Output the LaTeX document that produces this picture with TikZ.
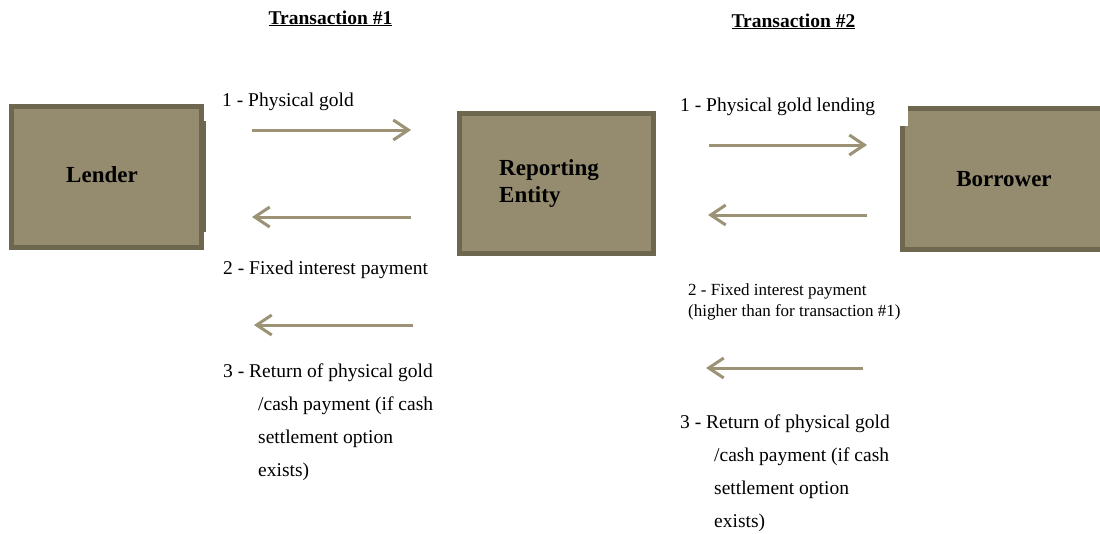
\documentclass[tikz,border=0pt]{standalone}
\usepackage{fontspec}
\setmainfont{Liberation Serif}
\usetikzlibrary{arrows.meta}
\definecolor{boxfill}{HTML}{958B6E}
\definecolor{boxline}{HTML}{6E6750}
\definecolor{arrowc}{HTML}{9C9275}
\tikzset{
  party/.style={draw=boxline, fill=boxfill, line width=5pt, inner sep=0pt,
    font=\fontsize{23}{27}\selectfont\bfseries},
  flow/.style={draw=arrowc, line width=3pt, -{Straight Barb[length=15pt,width=20pt,line width=3pt]}},
  lbl/.style={inner sep=0pt, anchor=base west, font=\fontsize{19.5}{33}\selectfont},
  lblsmall/.style={inner sep=0pt, anchor=base west, font=\fontsize{17}{21}\selectfont},
  title/.style={inner sep=0pt, anchor=base, font=\fontsize{19.5}{23}\selectfont\bfseries},
}
\begin{document}
\begin{tikzpicture}[x=1pt,y=-1pt]
\useasboundingbox (0,0) rectangle (1100,533);
% boxes
\node[party, minimum width=190pt, minimum height=141pt] (lender) at (106.5,177) {};
\fill[boxline] (202,121) rectangle (206,232);
\node[font=\fontsize{23}{27}\selectfont\bfseries, inner sep=0pt, anchor=base] (lendert) at (102,182) {Lender};
\node[party, minimum width=194pt, minimum height=140pt] (rep) at (556.5,183.5) {};
\node[font=\fontsize{23}{27}\selectfont\bfseries, inner sep=0pt, anchor=base west] (rept1) at (499,175) {Reporting};
\node[font=\fontsize{23}{27}\selectfont\bfseries, inner sep=0pt, anchor=base west] (rept2) at (499,202) {Entity};
\node[party, minimum width=200pt, minimum height=141pt] (borr) at (1002.5,179) {};
\fill[white] (897,103) rectangle (908,126);
\node[font=\fontsize{23}{27}\selectfont\bfseries, inner sep=0pt, anchor=base] (borrt) at (1004,186) {Borrower};
% titles
\node[title] (t1) at (330.5,24) {\underline{Transaction \#1}};
\node[title] (t2) at (793.5,27) {\underline{Transaction \#2}};
% arrows transaction 1
\coordinate (a1s) at (252,130); \coordinate (a1e) at (411,130);
\coordinate (a2s) at (411,217); \coordinate (a2e) at (252,217);
\coordinate (a3s) at (413,325); \coordinate (a3e) at (254,325);
\draw[flow] (a1s) -- (a1e);
\draw[flow] (a2s) -- (a2e);
\draw[flow] (a3s) -- (a3e);
% arrows transaction 2
\coordinate (b1s) at (709,145); \coordinate (b1e) at (867,145);
\coordinate (b2s) at (867,215); \coordinate (b2e) at (708,215);
\coordinate (b3s) at (863,368); \coordinate (b3e) at (706,368);
\draw[flow] (b1s) -- (b1e);
\draw[flow] (b2s) -- (b2e);
\draw[flow] (b3s) -- (b3e);
% labels transaction 1
\node[lbl] (l1) at (222,106) {1 - Physical gold};
\node[lbl] (l2) at (223,274) {2 - Fixed interest payment};
\node[lbl] (l3a) at (223,377) {3 - Return of physical gold};
\node[lbl] (l3b) at (258,410) {/cash payment (if cash};
\node[lbl] (l3c) at (258,443) {settlement option};
\node[lbl] (l3d) at (258,476) {exists)};
% labels transaction 2
\node[lbl] (m1) at (680,111) {1 - Physical gold lending};
\node[lblsmall] (m2a) at (688,295) {2 - Fixed interest payment};
\node[lblsmall] (m2b) at (688,316) {(higher than for transaction \#1)};
\node[lbl] (m3a) at (680,428) {3 - Return of physical gold};
\node[lbl] (m3b) at (714,461) {/cash payment (if cash};
\node[lbl] (m3c) at (714,494) {settlement option};
\node[lbl] (m3d) at (714,527) {exists)};
\end{tikzpicture}
\end{document}
